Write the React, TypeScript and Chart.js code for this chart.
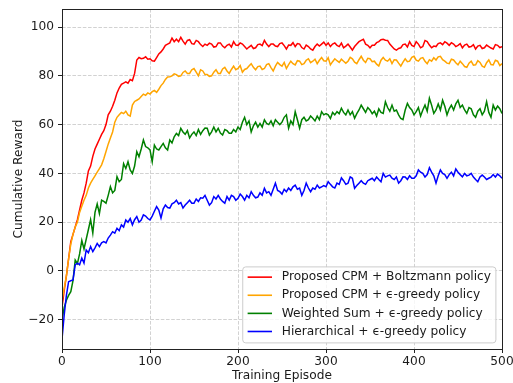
import React, { useEffect, useRef } from "react";
import { Chart, registerables } from "chart.js";

Chart.register(...registerables);

const episodes = [
  0, 2.5, 5, 7.5, 10, 12.5, 15, 17.5, 20, 22.5, 25, 27.5, 30, 32.5, 35, 37.5, 40, 42.5, 45, 47.5,
  50, 52.5, 55, 57.5, 60, 62.5, 65, 67.5, 70, 72.5, 75, 77.5, 80, 82.5, 85, 87.5, 90, 92.5, 95, 97.5,
  100, 102.5, 105, 107.5, 110, 112.5, 115, 117.5, 120, 122.5, 125, 127.5, 130, 132.5, 135, 137.5, 140, 142.5, 145, 147.5,
  150, 152.5, 155, 157.5, 160, 162.5, 165, 167.5, 170, 172.5, 175, 177.5, 180, 182.5, 185, 187.5, 190, 192.5, 195, 197.5,
  200, 202.5, 205, 207.5, 210, 212.5, 215, 217.5, 220, 222.5, 225, 227.5, 230, 232.5, 235, 237.5, 240, 242.5, 245, 247.5,
  250, 252.5, 255, 257.5, 260, 262.5, 265, 267.5, 270, 272.5, 275, 277.5, 280, 282.5, 285, 287.5, 290, 292.5, 295, 297.5,
  300, 302.5, 305, 307.5, 310, 312.5, 315, 317.5, 320, 322.5, 325, 327.5, 330, 332.5, 335, 337.5, 340, 342.5, 345, 347.5,
  350, 352.5, 355, 357.5, 360, 362.5, 365, 367.5, 370, 372.5, 375, 377.5, 380, 382.5, 385, 387.5, 390, 392.5, 395, 397.5,
  400, 402.5, 405, 407.5, 410, 412.5, 415, 417.5, 420, 422.5, 425, 427.5, 430, 432.5, 435, 437.5, 440, 442.5, 445, 447.5,
  450, 452.5, 455, 457.5, 460, 462.5, 465, 467.5, 470, 472.5, 475, 477.5, 480, 482.5, 485, 487.5, 490, 492.5, 495, 497.5,
  500,
];

const cpmBoltzmann = [
  -15, -8, -2, 5, 12, 15, 18, 21, 25, 29, 32, 36, 41, 43, 47, 50, 52, 54, 56, 57.5,
  60, 64, 65.5, 67.5, 70, 73, 75, 76.5, 77, 77.5, 77, 78.5, 78, 81, 86.5, 87.5, 87, 87.2, 87.8, 86.8,
  87, 86.2, 86, 87.5, 89, 89.8, 91, 92.5, 93, 93.5, 95.5, 94, 95, 94, 95.8, 94.2, 93, 94.5, 94.8, 93.2,
  93, 94.5, 94, 92.8, 92, 93, 92.5, 93.4, 93, 91.8, 92, 93.5, 93.5, 92.2, 91.5, 92.5, 93, 91.8, 94, 92.6,
  92.5, 93.5, 93, 92, 91, 91.8, 92.5, 91.2, 91.5, 92.8, 93, 92.4, 94.5, 93, 92, 93, 93, 92.2, 92, 93.2,
  93.5, 92.4, 91, 92.6, 92.5, 93.6, 92, 93.2, 93, 91.6, 91, 92.6, 92, 91, 90.5, 92, 93, 92.2, 93, 93.8,
  92.5, 93.5, 92, 93, 93.5, 92.5, 92, 93.4, 91.5, 92.2, 93, 91.8, 90.5, 92, 93, 94, 94.5, 95, 93, 92.5,
  91.5, 92.5, 92.5, 93.6, 94, 94.8, 95, 94.6, 94.5, 93, 92, 91, 90.5, 91.2, 91.5, 92.8, 93, 91.8, 94, 92.5,
  92, 94, 93, 91.5, 92, 94.5, 94, 92.6, 91.5, 92.2, 92, 93.2, 93.5, 92.8, 94, 93.4, 92.5, 93.6, 93, 92,
  92.5, 93.2, 91.5, 92.6, 93, 91.8, 92, 92.8, 91, 92.2, 92.5, 91.2, 91.5, 92.6, 92, 91.4, 91, 92.8, 92.5, 91.6,
  92,
];

const cpmGreedy = [
  -12, -7, -2, 5, 11, 15, 18, 20, 24, 26.5, 29, 31, 34, 36, 37.5, 39, 40.5, 42, 43.5, 46,
  49, 52, 54.5, 57, 61, 63, 64, 65, 64.5, 65.5, 64, 63.5, 68, 69.5, 70, 70.5, 71.5, 72.5, 72, 73,
  72.5, 73.5, 74, 73.2, 74.5, 76, 77, 78.5, 79.5, 79.6, 80, 80.8, 80.5, 79.8, 80, 81.4, 82, 81, 81, 82.5,
  83, 81.5, 80, 82.5, 82, 80.5, 80.5, 79.8, 80, 81.5, 82.5, 81, 81, 82.8, 83.5, 82, 81, 82.6, 84, 82.5,
  83, 84.2, 81.5, 82.6, 83, 84, 85, 83.5, 82.5, 83.8, 84, 82.6, 83, 84.6, 85, 83.4, 82, 84, 85.5, 84.6,
  84, 85.5, 83, 84.6, 86, 85, 84.5, 86.2, 86, 84.6, 85, 86.4, 87, 85.4, 86, 86.8, 85, 86.4, 87.5, 86.2,
  86, 87.4, 84.5, 85.8, 87, 86.2, 85.5, 86.8, 86, 85.2, 86, 87.6, 87, 85.6, 85, 86.6, 88, 86.4, 85.5, 87.2,
  87, 85.8, 86, 84.8, 84, 86.4, 87.5, 86.4, 86, 87, 85, 86.6, 86.5, 85.2, 84, 85.6, 87, 85.8, 86, 87.6,
  88, 86.4, 86, 87.2, 87.5, 86, 85, 86.6, 86, 87.4, 86.5, 87.8, 88, 86.6, 86, 85.2, 85, 86.8, 86.5, 85.4,
  84.5, 86, 85, 83.8, 83.5, 85.2, 86, 84.4, 84.5, 86.2, 85.5, 84, 83.5, 85.4, 86.5, 84.6, 84.5, 86.4, 86, 84.2,
  85,
];

const weightedSum = [
  -20, -15, -12, -10, -8.5, -4, 4.5, 3, 7, 12.5, 9, 13, 17, 21, 15.5, 24, 27.5, 23.5, 29, 28.5,
  27.8, 31, 34.6, 32, 33, 38.7, 36.6, 37.5, 44, 42, 44.8, 41.4, 40, 43, 48.9, 46.8, 50, 53.7, 51, 50.5,
  49.6, 44.8, 51.6, 50, 49.6, 51, 52.3, 50.5, 49.6, 53.7, 52.5, 55, 56.4, 55.5, 58.5, 57, 56, 57.5, 54.5, 56,
  57, 55.5, 58, 56, 57.5, 58.6, 58.5, 55.7, 57, 59, 57, 58.5, 56.5, 55.7, 58, 57.5, 56.5, 56.5, 58, 57,
  59, 58, 61, 63, 60, 61.5, 57, 59.5, 61, 59, 60.5, 59, 62, 60.5, 60, 61.5, 59.5, 62, 61, 60,
  61, 63, 64, 58.5, 61.5, 60, 65.3, 62, 58.5, 62, 63, 61.5, 62, 63.5, 62.6, 61.5, 63.5, 62, 65.3, 64,
  64.5, 64, 62.5, 65, 64, 65.3, 64.5, 66.7, 65, 64, 66, 64, 65.3, 62.6, 64.5, 66, 68, 66.5, 65, 67,
  66, 64.5, 65.5, 63.5, 66.5, 65, 64.6, 69.4, 67, 65.5, 68, 65.5, 66, 64, 62.5, 62, 66, 68.7, 67, 66,
  64, 65.3, 67, 63.5, 66, 68, 65.5, 70.8, 68, 64.6, 66, 68.5, 66, 70, 67.5, 64, 66.5, 68, 66, 68.5,
  70, 67, 68, 66, 64.6, 67, 66.5, 64, 63, 65.5, 66.5, 64, 65.5, 69.4, 65, 63, 68, 66, 67.6, 66.5,
  64.6,
];

const hierarchical = [
  -28, -18, -10, -4.4, -4, -3.7, 2.5, 3.2, 2.5, 5.3, 3.2, 8.6, 7.5, 10, 7.9, 9.5, 11.3, 10, 11.5, 12,
  11.5, 13.5, 14.7, 16.1, 15.5, 17.5, 16.5, 18.9, 18, 20.9, 20, 21.5, 18.9, 21, 22.3, 20, 20.9, 23, 22.5, 21.5,
  20.9, 22.5, 24.5, 26.4, 25, 21.7, 25.5, 27, 26, 25.8, 27.5, 28, 29, 27.5, 28, 25.8, 27, 28, 29, 27.8,
  27.8, 29.5, 28.5, 30, 29.8, 31, 29, 27, 28, 30.5, 29.5, 31, 29.5, 28.5, 27.8, 30.5, 29, 31, 30.5, 29,
  29.8, 31.5, 30.5, 29, 31, 30, 32.5, 31, 30, 30.3, 32, 31, 33.9, 32, 32.5, 31, 33.5, 36, 33, 32.5,
  31.5, 33.5, 32.5, 34, 33, 34.5, 35.2, 33.5, 34, 31, 33, 36, 34, 32.5, 34, 33.5, 35.2, 34, 34.5, 35,
  34.5, 36.6, 35.5, 34.5, 34, 36, 35.5, 38.2, 37, 35.5, 36, 38.6, 38, 33.9, 35, 36, 37, 36, 35.5, 37,
  37.5, 38, 37, 38.5, 37.5, 36.6, 40, 38.5, 39, 39.3, 38, 37.5, 38.5, 36, 37, 38.6, 38.5, 37.5, 39, 38,
  38, 39, 41.4, 40.5, 40, 38.5, 39.5, 42.3, 40.5, 39, 36, 39, 41.4, 40, 39.5, 38, 39.5, 40.5, 39, 41.8,
  40.5, 39.5, 38.6, 40, 39, 39.3, 40, 38.5, 37.5, 36.6, 38.5, 39.3, 38.5, 37.5, 38, 38.5, 39.5, 38.5, 39.7, 39,
  38,
];

const seriesLabels = [
  "Proposed CPM + Boltzmann policy",
  "Proposed CPM + \u03f5-greedy policy",
  "Weighted Sum + \u03f5-greedy policy",
  "Hierarchical + \u03f5-greedy policy",
];
const seriesColors = ["#ff0000", "#ffa500", "#008000", "#0000ff"];
const xTicks = [0, 100, 200, 300, 400, 500];
const yTicks = [-20, 0, 20, 40, 60, 80, 100];

const FONT = "'DejaVu Sans', sans-serif";
const FS = 12.2;
const TEXT = "#1a1a1a";

const framePlugin = {
  id: "mplFrame",
  afterDatasetsDraw(chart: any) {
    const { ctx, chartArea: a } = chart;
    ctx.save();
    ctx.strokeStyle = "#222222";
    ctx.lineWidth = 1;
    const l = Math.round(a.left) + 0.5;
    const t = Math.round(a.top) + 0.5;
    const r = Math.round(a.right) + 0.5;
    const b = Math.round(a.bottom) + 0.5;
    ctx.strokeRect(l, t, r - l, b - t);
    ctx.restore();
  },
};

const legendPlugin = {
  id: "mplLegend",
  afterDatasetsDraw(chart: any) {
    const { ctx, chartArea: a } = chart;
    const em = FS;
    ctx.save();
    ctx.font = `${FS}px ${FONT}`;
    const labels: string[] = chart.data.datasets.map((d: any) => d.label);
    const textW = Math.max(...labels.map((l) => ctx.measureText(l).width));
    const pad = 0.4 * em;
    const handle = 2 * em;
    const gap = 0.8 * em;
    const rowH = 1.485 * em;
    const w = pad * 2 + handle + gap + textW;
    const h = 6.23 * em;
    const right = a.right - 0.5 * em;
    const bottom = a.bottom - 0.5 * em;
    const left = right - w;
    const top = bottom - h;
    ctx.beginPath();
    if ((ctx as any).roundRect) (ctx as any).roundRect(left, top, w, h, 3);
    else ctx.rect(left, top, w, h);
    ctx.fillStyle = "rgba(255,255,255,0.8)";
    ctx.fill();
    ctx.strokeStyle = "#cccccc";
    ctx.lineWidth = 1;
    ctx.stroke();
    chart.data.datasets.forEach((d: any, i: number) => {
      const y = top + 0.84 * em + i * rowH;
      ctx.beginPath();
      ctx.strokeStyle = d.borderColor;
      ctx.lineWidth = 1.6;
      ctx.moveTo(left + pad, y);
      ctx.lineTo(left + pad + handle, y);
      ctx.stroke();
      ctx.fillStyle = TEXT;
      ctx.textBaseline = "middle";
      ctx.textAlign = "left";
      ctx.fillText(d.label, left + pad + handle + gap, y);
    });
    ctx.restore();
  },
};

export default function App() {
  const ref = useRef<HTMLCanvasElement | null>(null);

  useEffect(() => {
    if (!ref.current) return;
    const series = [cpmBoltzmann, cpmGreedy, weightedSum, hierarchical];
    const font = { family: FONT, size: FS };
    const gridCfg = {
      color: "#d2d2d2",
      lineWidth: 1,
      tickLength: 4,
      tickColor: "#222222",
      tickWidth: 1,
    };
    const chart = new Chart(ref.current, {
      type: "line",
      data: {
        datasets: series.map((vals, i) => ({
          label: seriesLabels[i],
          data: episodes.map((x, j) => ({ x, y: vals[j] })),
          borderColor: seriesColors[i],
          backgroundColor: seriesColors[i],
          borderWidth: 1.5,
          pointRadius: 0,
          tension: 0,
          fill: false,
          order: 4 - i,
        })),
      },
      options: {
        animation: false,
        responsive: false,
        devicePixelRatio: 1,
        layout: { padding: { top: 9, right: 11, bottom: 0, left: 0 } },
        plugins: {
          legend: { display: false },
          tooltip: { enabled: false },
        },
        scales: {
          x: {
            type: "linear",
            min: 0,
            max: 500,
            afterBuildTicks: (s: any) => {
              s.ticks = xTicks.map((v) => ({ value: v }));
            },
            afterFit: (s: any) => {
              s.height = 34;
              s.paddingLeft = 0;
              s.paddingRight = 0;
            },
            ticks: { font, color: TEXT, padding: 2, maxRotation: 0, autoSkip: false },
            grid: gridCfg,
            border: { display: false, dash: [3.6, 1.6] },
            title: {
              display: true,
              text: "Training Episode",
              font,
              color: TEXT,
              padding: { top: 0, bottom: 0 },
            },
          },
          y: {
            type: "linear",
            min: -32,
            max: 107.4,
            afterBuildTicks: (s: any) => {
              s.ticks = yTicks.map((v) => ({ value: v }));
            },
            afterFit: (s: any) => {
              s.width = 62;
              s.paddingTop = 0;
              s.paddingBottom = 0;
            },
            ticks: {
              font,
              color: TEXT,
              padding: 4,
              callback: (v: any) => String(v).replace("-", "\u2212"),
            },
            grid: gridCfg,
            border: { display: false, dash: [3.6, 1.6] },
            title: {
              display: true,
              text: "Cumulative Reward",
              font,
              color: TEXT,
              padding: { top: 12, bottom: 0 },
            },
          },
        },
      },
      plugins: [framePlugin, legendPlugin],
    } as any);
    return () => chart.destroy();
  }, []);

  return (
    <div style={{ position: "absolute", left: 0, top: 0, width: 513, height: 383, background: "#fff" }}>
      <canvas ref={ref} width={513} height={383} style={{ display: "block" }} />
    </div>
  );
}
